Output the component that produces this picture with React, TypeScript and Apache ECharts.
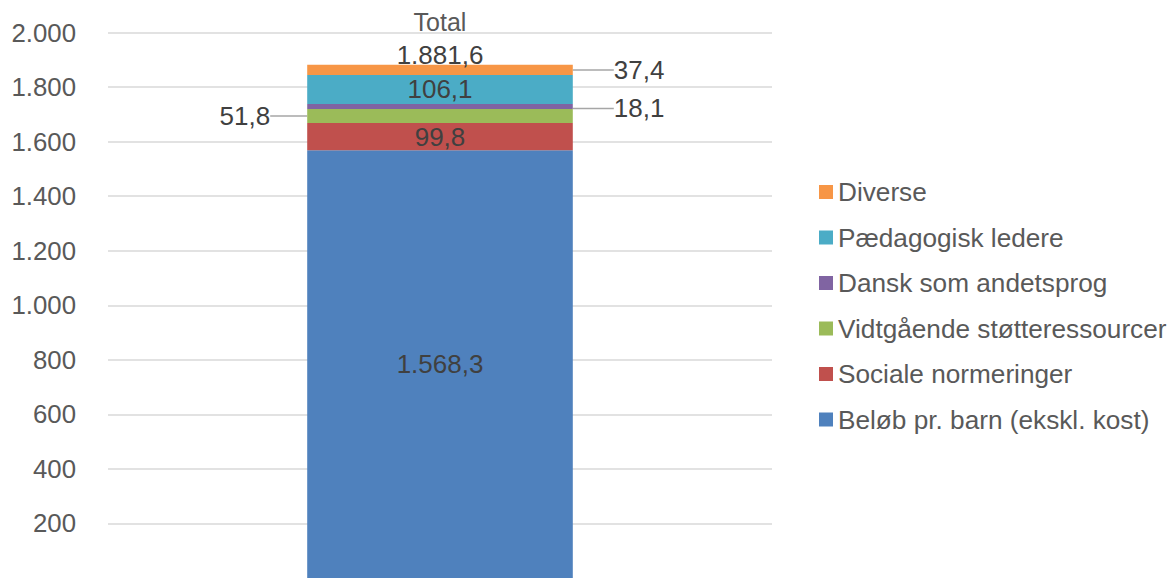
import React, { useEffect, useRef } from "react";
import * as echarts from "echarts";

const categories = ["Total"];
const seriesNames = [
  "Beløb pr. barn (ekskl. kost)",
  "Sociale normeringer",
  "Vidtgående støtteressourcer",
  "Dansk som andetsprog",
  "Pædagogisk ledere",
  "Diverse",
];
const seriesValues = [1568.3, 99.8, 51.8, 18.1, 106.1, 37.4];
const seriesColors = ["#4F81BD", "#C0504D", "#9BBB59", "#8064A2", "#4BACC6", "#F79646"];
const totalValue = 1881.6;
const yTicks = [0, 200, 400, 600, 800, 1000, 1200, 1400, 1600, 1800, 2000];

const FONT = "'Liberation Sans', Arial, sans-serif";

function fmt(v: number, dec: number): string {
  const s = v.toFixed(dec);
  const [ip, dp] = s.split(".");
  const withSep = ip.replace(/\B(?=(\d{3})+(?!\d))/g, ".");
  return dp !== undefined ? withSep + "," + dp : withSep;
}

export default function App() {
  const ref = useRef<HTMLDivElement>(null);
  useEffect(() => {
    document.body.style.overflow = "hidden";
    if (!ref.current) return;
    const chart = echarts.init(ref.current, undefined, { renderer: "svg" });
    const labelColor = "#404040";
    const labelStyles: any[] = [
      { show: true, position: "inside" },
      { show: true, position: "inside" },
      { show: true, position: "left", distance: 5, padding: [0, 10, 0, 0] },
      { show: true, position: "right", distance: 5, padding: [0, 0, 0, 8] },
      { show: true, position: "inside" },
      { show: true, position: "right", distance: 5, padding: [0, 0, 0, 8] },
    ];
    const layouts: any[] = [
      undefined,
      undefined,
      { dx: -22 },
      { dx: 28, dy: 2 },
      undefined,
      { dx: 28 },
    ];
    const series: any[] = seriesNames.map((name, i) => ({
      name,
      type: "bar",
      stack: "total",
      barWidth: "40%",
      data: [seriesValues[i]],
      itemStyle: { color: seriesColors[i] },
      label: {
        ...labelStyles[i],
        color: labelColor,
        fontSize: 26,
        fontFamily: FONT,
        formatter: (p: any) => fmt(p.value, 1),
      },
      labelLayout: layouts[i],
      labelLine: layouts[i]
        ? { show: true, lineStyle: { color: "#A6A6A6", width: 1.5 } }
        : undefined,
    }));
    series.push({
      name: "TotalLabel",
      type: "scatter",
      data: [totalValue],
      symbolSize: 2,
      itemStyle: { color: "rgba(0,0,0,0)", opacity: 1 },
      label: {
        show: true,
        position: "top",
        distance: -4,
        color: labelColor,
        fontSize: 26,
        fontFamily: FONT,
        formatter: (p: any) => fmt(p.value, 1),
      },
      z: 10,
      silent: true,
    });

    chart.setOption({
      animation: false,
      backgroundColor: "#ffffff",
      grid: { left: 108, right: 402, top: 32.5, bottom: 0, containLabel: false },
      xAxis: {
        type: "category",
        data: categories,
        position: "top",
        axisLine: { show: false },
        axisTick: { show: false },
        axisLabel: { color: "#595959", fontSize: 25, fontFamily: FONT, margin: -2 },
      },
      yAxis: {
        type: "value",
        min: yTicks[0],
        max: yTicks[yTicks.length - 1],
        interval: 200,
        axisLine: { show: false },
        axisTick: { show: false },
        splitLine: { showMinLine: false, lineStyle: { color: "#D9D9D9", width: 1.5 } },
        axisLabel: {
          color: "#595959",
          fontSize: 25.8,
          fontFamily: FONT,
          margin: 32,
          formatter: (v: number) => (v === 0 ? "" : fmt(v, 0)),
        },
      },
      legend: {
        orient: "vertical",
        left: 814,
        top: 174,
        itemWidth: 14,
        itemHeight: 14,
        itemGap: 19.5,
        icon: "rect",
        data: seriesNames.slice().reverse(),
        textStyle: { color: "#595959", fontSize: 26.2, fontFamily: FONT, lineHeight: 26 },
        selectedMode: false,
      },
      series,
    });
    return () => chart.dispose();
  }, []);
  return (
    <div
      ref={ref}
      style={{ position: "absolute", left: 0, top: 0, width: 1174, height: 578 }}
    />
  );
}
